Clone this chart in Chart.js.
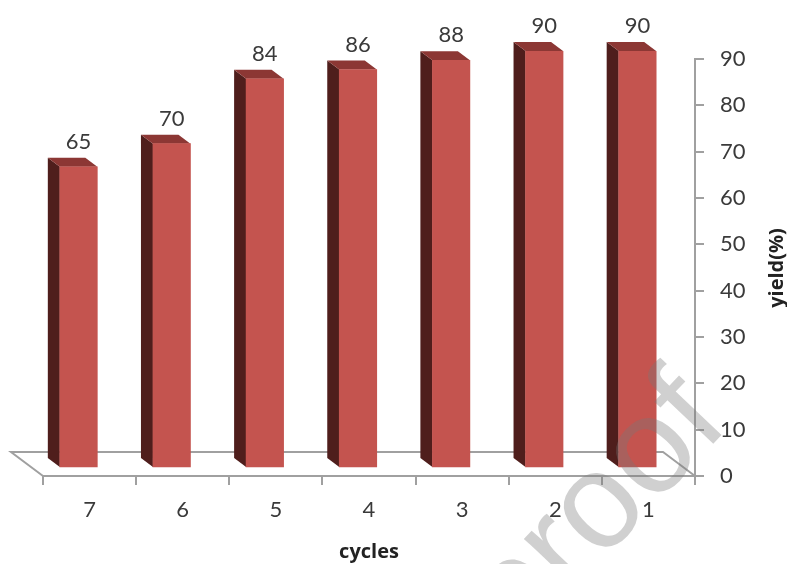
<!DOCTYPE html>
<html>
<head>
<meta charset="utf-8">
<style>
  html, body { margin: 0; padding: 0; background: #fff; }
  #wrap { width: 787px; height: 564px; }
</style>
<script src="https://cdn.jsdelivr.net/npm/chart.js@4"></script>
</head>
<body>
<div id="wrap"><canvas id="yieldChart" width="787" height="564"></canvas></div>
<script>
const cycles = ["7", "6", "5", "4", "3", "2", "1"];
const yields = [65, 70, 84, 86, 88, 90, 90];
const yTicks = [0, 10, 20, 30, 40, 50, 60, 70, 80, 90];

const FONT = "Lato, 'Open Sans', sans-serif";
const TEXT = "#3a3a3a";
const AXIS = "#a0a0a0";

// pseudo-3D offsets: bars stand back from the axis plane on a sloped floor
const shiftX = -11, shiftY = -8;
const depthX = -12, depthY = -9;

const floorPlugin = {
  id: "floor",
  beforeDatasetsDraw(chart) {
    const { ctx, chartArea: a } = chart;
    ctx.save();
    ctx.strokeStyle = AXIS;
    ctx.lineWidth = 2;
    ctx.beginPath();
    ctx.moveTo(a.left, a.bottom);
    ctx.lineTo(a.left - 32, a.bottom - 24);
    ctx.lineTo(a.right - 32, a.bottom - 24);
    ctx.lineTo(a.right, a.bottom);
    ctx.stroke();
    ctx.restore();
  }
};

const barPlugin = {
  id: "bars3d",
  beforeDatasetDraw(chart) {
    const { ctx } = chart;
    ctx.save();
    ctx.translate(shiftX, shiftY);
    chart.getDatasetMeta(0).data.forEach(bar => {
      const l = bar.x - bar.width / 2, r = bar.x + bar.width / 2;
      // side face
      ctx.fillStyle = "#4f1e1c";
      ctx.beginPath();
      ctx.moveTo(l, bar.y);
      ctx.lineTo(l + depthX, bar.y + depthY);
      ctx.lineTo(l + depthX, bar.base + depthY);
      ctx.lineTo(l, bar.base);
      ctx.closePath();
      ctx.fill();
      // top face
      ctx.fillStyle = "#8c3734";
      ctx.beginPath();
      ctx.moveTo(l, bar.y);
      ctx.lineTo(l + depthX, bar.y + depthY);
      ctx.lineTo(r + depthX, bar.y + depthY);
      ctx.lineTo(r, bar.y);
      ctx.closePath();
      ctx.fill();
    });
  },
  afterDatasetDraw(chart) {
    const { ctx } = chart;
    ctx.fillStyle = TEXT;
    ctx.font = "22px " + FONT;
    ctx.textAlign = "center";
    ctx.textBaseline = "middle";
    chart.getDatasetMeta(0).data.forEach((bar, i) => {
      ctx.fillText(yields[i], bar.x, bar.y - 25);
    });
    ctx.restore();
  }
};

const overlayPlugin = {
  id: "overlay",
  afterDraw(chart) {
    const { ctx } = chart;
    ctx.save();
    ctx.fillStyle = "#222";
    ctx.font = "bold 20px 'Open Sans', sans-serif";
    ctx.textAlign = "center";
    ctx.textBaseline = "middle";
    ctx.translate(777, 268);
    ctx.rotate(-Math.PI / 2);
    ctx.fillText("yield(%)", 0, 0);
    ctx.restore();

    // diagonal stamp across the lower right corner
    ctx.save();
    ctx.fillStyle = "rgba(120,120,120,0.35)";
    ctx.font = "136px 'Liberation Sans', sans-serif";
    ctx.textAlign = "right";
    ctx.textBaseline = "alphabetic";
    ctx.translate(731, 425);
    ctx.rotate(-46.5 * Math.PI / 180);
    ctx.fillText("Journal Pre-proof", 0, 0);
    ctx.restore();
  }
};

new Chart(document.getElementById("yieldChart"), {
  type: "bar",
  data: {
    labels: cycles,
    datasets: [{
      data: yields,
      backgroundColor: "#c4544f",
      borderWidth: 0,
      barThickness: 37.5
    }]
  },
  options: {
    responsive: false,
    animation: false,
    layout: { padding: { left: 43, top: 59, right: 0, bottom: 0 } },
    plugins: { legend: { display: false }, tooltip: { enabled: false } },
    scales: {
      x: {
        grid: { drawOnChartArea: false, color: AXIS, lineWidth: 2, tickLength: 9 },
        border: { color: AXIS, width: 2 },
        ticks: { color: TEXT, font: { family: FONT, size: 22 }, padding: 12 },
        title: {
          display: true,
          text: "cycles",
          color: "#222",
          font: { family: "'Open Sans', sans-serif", size: 20, weight: "bold" },
          padding: { top: 13, bottom: 0 }
        },
        afterFit(scale) { scale.height = 88; }
      },
      y: {
        position: "right",
        min: 0,
        max: 90,
        afterBuildTicks(scale) { scale.ticks = yTicks.map(value => ({ value })); },
        grid: { drawOnChartArea: false, color: AXIS, lineWidth: 2, tickLength: 9 },
        border: { color: AXIS, width: 2 },
        ticks: { color: TEXT, font: { family: FONT, size: 22 }, padding: 16 },
        afterFit(scale) { scale.width = 92; }
      }
    }
  },
  plugins: [floorPlugin, barPlugin, overlayPlugin]
});
</script>
</body>
</html>
